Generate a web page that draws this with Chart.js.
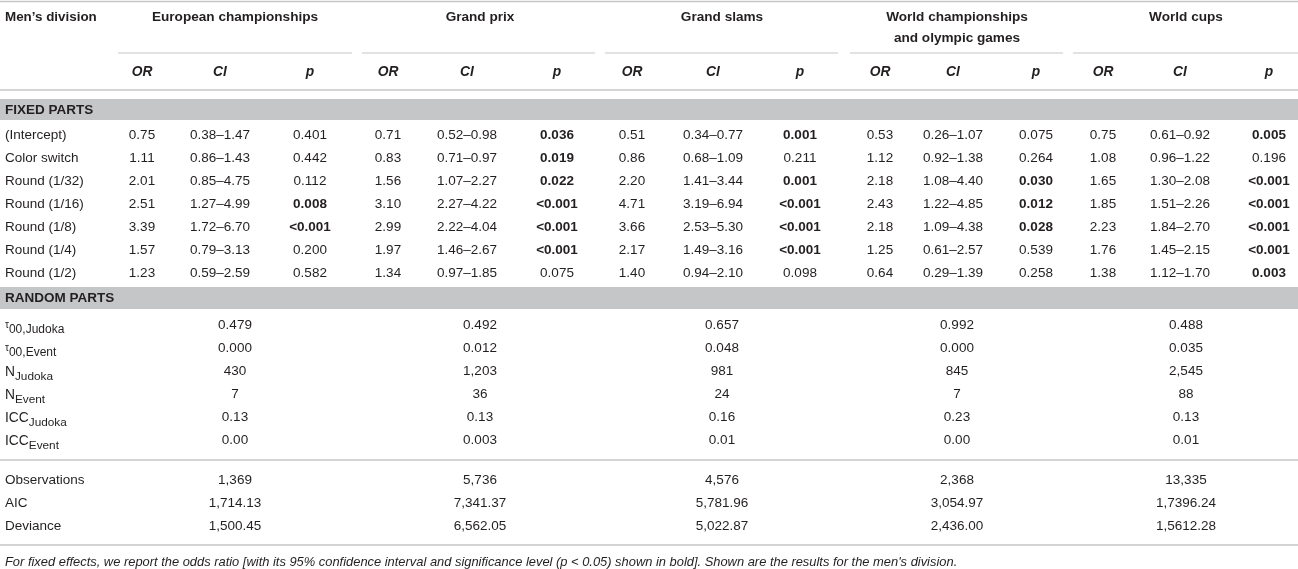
<!DOCTYPE html>
<html>
<head>
<meta charset="utf-8">
<script src="https://cdn.jsdelivr.net/npm/chart.js@4.4.0/dist/chart.umd.min.js"></script>
<style>
  html, body { margin: 0; padding: 0; background: #fff; }
  #wrap { width: 1298px; height: 569px; }
</style>
</head>
<body>
<div id="wrap"><canvas id="tabla"></canvas></div>
<script>
// ---- datos de la tabla ----
const grupos = ["European championships", "Grand prix", "Grand slams", "World championships\nand olympic games", "World cups"];
const subcolumnas = ["OR", "CI", "p"];
const terminos = ["(Intercept)", "Color switch", "Round (1/32)", "Round (1/16)", "Round (1/8)", "Round (1/4)", "Round (1/2)"];

const euroOR = ["0.75", "1.11", "2.01", "2.51", "3.39", "1.57", "1.23"];
const euroCI = ["0.38–1.47", "0.86–1.43", "0.85–4.75", "1.27–4.99", "1.72–6.70", "0.79–3.13", "0.59–2.59"];
const euroP = ["0.401", "0.442", "0.112", "0.008", "<0.001", "0.200", "0.582"];

const prixOR = ["0.71", "0.83", "1.56", "3.10", "2.99", "1.97", "1.34"];
const prixCI = ["0.52–0.98", "0.71–0.97", "1.07–2.27", "2.27–4.22", "2.22–4.04", "1.46–2.67", "0.97–1.85"];
const prixP = ["0.036", "0.019", "0.022", "<0.001", "<0.001", "<0.001", "0.075"];

const slamOR = ["0.51", "0.86", "2.20", "4.71", "3.66", "2.17", "1.40"];
const slamCI = ["0.34–0.77", "0.68–1.09", "1.41–3.44", "3.19–6.94", "2.53–5.30", "1.49–3.16", "0.94–2.10"];
const slamP = ["0.001", "0.211", "0.001", "<0.001", "<0.001", "<0.001", "0.098"];

const mundialOR = ["0.53", "1.12", "2.18", "2.43", "2.18", "1.25", "0.64"];
const mundialCI = ["0.26–1.07", "0.92–1.38", "1.08–4.40", "1.22–4.85", "1.09–4.38", "0.61–2.57", "0.29–1.39"];
const mundialP = ["0.075", "0.264", "0.030", "0.012", "0.028", "0.539", "0.258"];

const copaOR = ["0.75", "1.08", "1.65", "1.85", "2.23", "1.76", "1.38"];
const copaCI = ["0.61–0.92", "0.96–1.22", "1.30–2.08", "1.51–2.26", "1.84–2.70", "1.45–2.15", "1.12–1.70"];
const copaP = ["0.005", "0.196", "<0.001", "<0.001", "<0.001", "<0.001", "0.003"];

// partes aleatorias: [simbolo, subindice]
const aleatorios = [["τ", "00,Judoka"], ["τ", "00,Event"], ["N", "Judoka"], ["N", "Event"], ["ICC", "Judoka"], ["ICC", "Event"]];
const tauJudoka = ["0.479", "0.492", "0.657", "0.992", "0.488"];
const tauEvent = ["0.000", "0.012", "0.048", "0.000", "0.035"];
const nJudoka = ["430", "1,203", "981", "845", "2,545"];
const nEvent = ["7", "36", "24", "7", "88"];
const iccJudoka = ["0.13", "0.13", "0.16", "0.23", "0.13"];
const iccEvent = ["0.00", "0.003", "0.01", "0.00", "0.01"];

const ajuste = ["Observations", "AIC", "Deviance"];
const observaciones = ["1,369", "5,736", "4,576", "2,368", "13,335"];
const aic = ["1,714.13", "7,341.37", "5,781.96", "3,054.97", "1,7396.24"];
const deviance = ["1,500.45", "6,562.05", "5,022.87", "2,436.00", "1,5612.28"];

const nota = "For fixed effects, we report the odds ratio [with its 95% confidence interval and significance level (p < 0.05) shown in bold]. Shown are the results for the men's division.";

// ---- disposicion (unidades de las escalas) ----
const fijos = [[euroOR, euroCI, euroP], [prixOR, prixCI, prixP], [slamOR, slamCI, slamP], [mundialOR, mundialCI, mundialP], [copaOR, copaCI, copaP]];
const filasAleatorias = [tauJudoka, tauEvent, nJudoka, nEvent, iccJudoka, iccEvent];
const filasAjuste = [observaciones, aic, deviance];

const tramoGrupo = [[118, 352], [362, 595], [605, 838], [850, 1063], [1073, 1298]];
const centroGrupo = [235, 480, 722, 957, 1186];
const columnaX = [[142, 220, 310], [388, 467, 557], [632, 713, 800], [880, 953, 1036], [1103, 1180, 1269]];
const FILA = 23;

const FUENTE = '"Liberation Sans", Arial, Helvetica, sans-serif';
const TINTA = "#231f20";
const GRIS_LINEA = "#c6c6c6";
const GRIS_BANDA = "#c5c6c8";

function significativo(p) {
  return p.startsWith("<") || parseFloat(p) < 0.05;
}

const dibujarTabla = {
  id: "dibujarTabla",
  afterDraw(chart) {
    const ctx = chart.ctx;
    const sx = chart.scales.x, sy = chart.scales.y;
    const X = (v) => sx.getPixelForValue(v);
    const Y = (v) => sy.getPixelForValue(v);

    function linea(x0, x1, y, ancho) {
      ctx.strokeStyle = GRIS_LINEA;
      ctx.lineWidth = ancho;
      ctx.beginPath();
      ctx.moveTo(X(x0), Y(y));
      ctx.lineTo(X(x1), Y(y));
      ctx.stroke();
    }
    function texto(t, x, y, estilo, alinear) {
      ctx.font = estilo;
      ctx.textAlign = alinear || "center";
      ctx.textBaseline = "middle";
      ctx.fillStyle = TINTA;
      ctx.fillText(t, X(x), Y(y));
    }
    function banda(y0, y1, t) {
      ctx.fillStyle = GRIS_BANDA;
      ctx.fillRect(X(0), Y(y0), X(1298) - X(0), Y(y1) - Y(y0));
      texto(t, 5, (y0 + y1) / 2 + 0.5, "bold 13.5px " + FUENTE, "left");
    }

    ctx.save();
    // cabecera
    linea(0, 1298, 1.5, 1.5);
    texto("Men’s division", 5, 17, "bold 13.4px " + FUENTE, "left");
    grupos.forEach((g, i) => {
      const partes = g.split("\n");
      partes.forEach((p, k) => texto(p, centroGrupo[i], 17 + k * 21, "bold 13.6px " + FUENTE));
      linea(tramoGrupo[i][0], tramoGrupo[i][1], 53, 1.2);
      subcolumnas.forEach((s, j) => texto(s, columnaX[i][j], 72, "italic bold 13.8px " + FUENTE));
    });
    linea(0, 1298, 90, 1.5);

    // partes fijas
    banda(99, 120, "FIXED PARTS");
    terminos.forEach((t, r) => {
      const y = 135 + r * FILA;
      texto(t, 5, y, "13.5px " + FUENTE, "left");
      fijos.forEach((cols, i) => {
        cols.forEach((serie, j) => {
          const v = serie[r];
          const negrita = j === 2 && significativo(v);
          texto(v, columnaX[i][j], y, (negrita ? "bold " : "") + "13.5px " + FUENTE);
        });
      });
    });

    // partes aleatorias
    banda(287, 309, "RANDOM PARTS");
    aleatorios.forEach((et, r) => {
      const y = 327 + r * FILA;
      ctx.fillStyle = TINTA;
      ctx.textBaseline = "alphabetic";
      ctx.textAlign = "left";
      if (et[0] === "τ") {
        ctx.font = "10px " + FUENTE;
        ctx.fillText(et[0], X(5), Y(y + 1));
        const w = ctx.measureText(et[0]).width;
        ctx.font = "12px " + FUENTE;
        ctx.fillText(et[1], X(5) + w, Y(y + 5.5));
      } else {
        ctx.font = "13.8px " + FUENTE;
        ctx.fillText(et[0], X(5), Y(y + 3));
        const w = ctx.measureText(et[0]).width;
        ctx.font = "11.8px " + FUENTE;
        ctx.fillText(et[1], X(5) + w, Y(y + 7));
      }
      filasAleatorias[r].forEach((v, i) => texto(v, centroGrupo[i], y - 2, "13.5px " + FUENTE));
    });

    // ajuste del modelo
    linea(0, 1298, 460, 1.5);
    ajuste.forEach((t, r) => {
      const y = 480 + r * FILA;
      texto(t, 5, y, "13.5px " + FUENTE, "left");
      filasAjuste[r].forEach((v, i) => texto(v, centroGrupo[i], y, "13.5px " + FUENTE));
    });
    linea(0, 1298, 545, 1.5);

    texto(nota, 5, 562.5, "italic 12.9px " + FUENTE, "left");
    ctx.restore();
  }
};

new Chart(document.getElementById("tabla"), {
  type: "scatter",
  data: { datasets: [] },
  options: {
    responsive: true,
    maintainAspectRatio: false,
    animation: false,
    layout: { padding: 0 },
    plugins: { legend: { display: false }, tooltip: { enabled: false } },
    scales: {
      x: { type: "linear", min: 0, max: 1298, display: false },
      y: { type: "linear", min: 0, max: 569, reverse: true, display: false },
    },
  },
  plugins: [dibujarTabla],
});
</script>
</body>
</html>
